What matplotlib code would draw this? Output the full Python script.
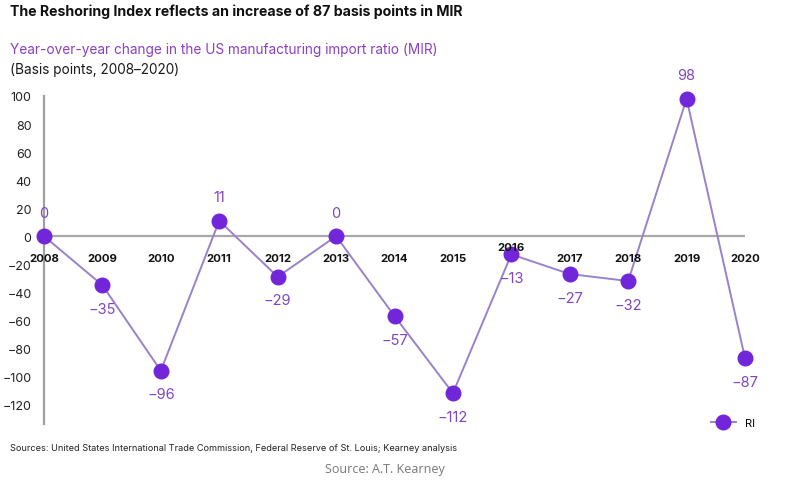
import matplotlib
matplotlib.use("Agg")
import matplotlib.pyplot as plt
from matplotlib.lines import Line2D

years = [2008, 2009, 2010, 2011, 2012, 2013, 2014, 2015, 2016, 2017, 2018, 2019, 2020]
ri = [0, -35, -96, 11, -29, 0, -57, -112, -13, -27, -32, 98, -87]
y_ticks = [100, 80, 60, 40, 20, 0, -20, -40, -60, -80, -100, -120]
label_above = [True, False, False, True, False, True, False, False, False, False, False, True, False]

plt.rcParams['font.family'] = ['Inter', 'DejaVu Sans']

fig = plt.figure(figsize=(7.86, 4.85), dpi=100)
ax = fig.add_axes([44/786, 1-425/485, (745-44)/786, (425-97)/485])

line_col = '#9882c9'
mark_col = '#7226d9'
lab_col = '#7f45c2'

ax.axhline(0, color='#a8a8a8', lw=1.6, zorder=1)
ax.plot(years, ri, color=line_col, lw=1.4, marker='o', ms=10.5,
        mfc=mark_col, mec=mark_col, zorder=3, clip_on=False)

for x, v, up in zip(years, ri, label_above):
    txt = f"{v}".replace('-', '\u2212')
    ax.annotate(txt, (x, v), xytext=(0, 12 if up else -12), textcoords='offset points',
                ha='center', va='bottom' if up else 'top', color=lab_col, fontsize=10.5)

for x in years:
    dy = -4 if x == 2016 else -12
    ax.annotate(str(x), (x, 0), xytext=(0, dy), textcoords='offset points',
                ha='center', va='top', fontsize=8.2, fontweight='bold', color='#111111')

ax.set_xlim(2008, 2020)
ax.set_ylim(-134, 99)
ax.set_yticks(y_ticks)
ax.set_yticklabels([f"{t}".replace('-', '\u2212') for t in y_ticks], fontsize=9, color='#222222')
ax.tick_params(axis='y', length=0, pad=9)
ax.set_xticks([])
for s in ['top', 'right', 'bottom']:
    ax.spines[s].set_visible(False)
ax.spines['left'].set_color('#a0a0a0')
ax.spines['left'].set_linewidth(1.6)
ax.patch.set_alpha(0)

fig.text(10/786, 1-12/485, "The Reshoring Index reflects an increase of 87 basis points in MIR",
         fontsize=10.2, fontweight='bold', color='#111111', va='center', ha='left')
fig.text(10/786, 1-50/485, "Year-over-year change in the US manufacturing import ratio (MIR)",
         fontsize=9.8, color='#8a3fc4', va='center', ha='left')
fig.text(10/786, 1-70/485, "(Basis points, 2008\u20132020)",
         fontsize=9.8, color='#1a1a1a', va='center', ha='left')
fig.text(10/786, 1-449/485,
         "Sources: United States International Trade Commission, Federal Reserve of St. Louis; Kearney analysis",
         fontsize=6.6, color='#222222', va='center', ha='left')
fig.text(385/786, 1-470/485, "Source: A.T. Kearney", fontsize=9, color='#777777',
         va='center', ha='center', family=['Open Sans', 'DejaVu Sans'])

handle = Line2D([], [], color=line_col, lw=1.4, marker='o', ms=10.5, mfc=mark_col, mec=mark_col)
fig.legend([handle], ['RI'], loc='center', bbox_to_anchor=(733/786, 1-424/485),
           frameon=False, fontsize=8, handlelength=2.2, handletextpad=0.8)

fig.savefig('out.png', dpi=100)
